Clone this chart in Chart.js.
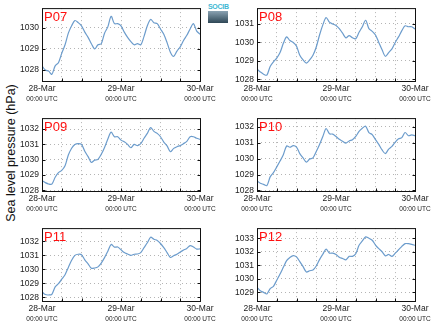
<!DOCTYPE html>
<html><head><meta charset="utf-8">
<script src="https://cdn.jsdelivr.net/npm/chart.js@4.4.1/dist/chart.umd.min.js"></script>
<style>
html,body{margin:0;padding:0;background:#fff;width:434px;height:327px;overflow:hidden;position:relative;font-family:"Liberation Sans",Arial,sans-serif}
.pane{position:absolute}
#ytitle{position:absolute;left:11px;top:153px;font-size:12.5px;color:#111;white-space:nowrap;transform:translate(-50%,-50%) rotate(-90deg)}
#logo{position:absolute;left:208px;top:3px;width:20px}
#logo .lt{font-size:7px;line-height:7px;color:#3fb8d4;font-weight:bold;letter-spacing:-0.3px;text-align:center}
#logo .lb{margin-top:1px;height:12px;background:linear-gradient(#8aa2b2,#2e4756);position:relative}
</style></head><body>
<div id="ytitle">Sea level pressure (hPa)</div>
<div id="logo"><div class="lt">SOCIB</div><div class="lb"></div></div>
<script>
// ---- data ----
const hours = [0,1,2,3,4,5,6,7,8,9,10,11,12,13,14,15,16,17,18,19,20,21,22,23,24,25,26,27,28,29,30,31,32,33,34,35,36,37,38,39,40,41,42,43,44,45,46,47,48];
const dayLabels = ['28-Mar','29-Mar','30-Mar'];
const timeLabel = '00:00 UTC';
const panelNames = ['P07','P08','P09','P10','P11','P12'];

const p07 = [1028.2,1028.0,1027.95,1027.8,1028.2,1028.35,1028.8,1029.2,1029.75,1030.1,1030.35,1030.25,1030.1,1029.8,1029.55,1029.25,1029.0,1029.2,1029.25,1029.75,1030.05,1030.55,1030.2,1030.2,1030.1,1029.8,1029.55,1029.35,1029.2,1029.25,1029.2,1029.6,1030.1,1030.4,1030.25,1030.2,1029.95,1029.7,1029.3,1028.85,1028.65,1028.9,1029.1,1029.4,1029.65,1029.95,1030.2,1029.85,1029.7];
const p08 = [1028.55,1028.4,1028.28,1028.23,1028.7,1028.95,1029.15,1029.45,1029.95,1030.3,1030.1,1030.0,1029.8,1029.3,1029.05,1028.88,1029.05,1029.3,1029.75,1030.4,1030.95,1031.35,1031.1,1031.0,1030.92,1030.75,1030.5,1030.25,1030.37,1030.25,1030.2,1030.55,1030.85,1031.2,1030.75,1030.6,1030.4,1030.0,1029.6,1029.25,1029.45,1029.65,1030.0,1030.3,1030.64,1030.9,1030.85,1030.85,1030.73];
const p09 = [1028.63,1028.5,1028.41,1028.4,1028.85,1029.15,1029.3,1029.6,1030.3,1030.75,1031.0,1031.05,1031.0,1030.55,1030.2,1029.82,1029.97,1030.02,1030.35,1030.8,1031.35,1031.8,1031.5,1031.5,1031.28,1031.17,1031.0,1030.78,1031.0,1030.92,1031.05,1031.4,1031.72,1032.1,1031.85,1031.72,1031.5,1031.15,1030.9,1030.52,1030.74,1030.85,1030.92,1031.05,1031.2,1031.5,1031.5,1031.4,1031.33];
const p10 = [1028.6,1028.45,1028.38,1028.3,1028.85,1029.12,1029.48,1029.85,1030.25,1030.8,1030.72,1030.82,1030.73,1030.32,1030.05,1029.78,1029.98,1030.05,1030.45,1030.9,1031.4,1031.9,1031.57,1031.55,1031.4,1031.22,1031.1,1030.98,1031.12,1031.2,1031.4,1031.72,1031.92,1032.05,1031.65,1031.52,1031.2,1030.9,1030.55,1030.32,1030.6,1030.78,1031.05,1031.25,1031.33,1031.65,1031.45,1031.5,1031.45];
const p11 = [1028.4,1028.2,1028.17,1028.22,1028.75,1028.98,1029.3,1029.62,1030.14,1030.65,1031.0,1031.08,1031.05,1030.68,1030.4,1030.08,1030.1,1030.18,1030.45,1030.84,1031.3,1031.78,1031.59,1031.6,1031.4,1031.2,1031.1,1031.0,1031.08,1031.1,1031.2,1031.55,1031.9,1032.3,1032.15,1032.07,1031.85,1031.55,1031.2,1030.85,1030.98,1031.08,1031.25,1031.38,1031.5,1031.7,1031.6,1031.45,1031.47];
const p12 = [1029.37,1029.12,1029.0,1028.88,1029.28,1029.45,1029.9,1030.35,1030.85,1031.35,1031.58,1031.72,1031.62,1031.27,1030.9,1030.5,1030.6,1030.65,1030.95,1031.42,1031.82,1032.2,1031.9,1031.9,1031.8,1031.6,1031.5,1031.4,1031.66,1031.66,1031.85,1032.48,1032.8,1033.1,1033.0,1032.85,1032.5,1032.23,1032.0,1031.7,1031.8,1031.66,1031.9,1032.15,1032.4,1032.6,1032.6,1032.55,1032.48];
const seriesList = [p07,p08,p09,p10,p11,p12];
const yMin = [1027.48,1027.91,1027.95,1027.96,1027.74,1028.36];
const yMax = [1030.94,1031.86,1032.72,1032.56,1032.95,1033.75];
const yTicks = [
  [1028,1029,1030],
  [1028,1029,1030,1031],
  [1028,1029,1030,1031,1032],
  [1028,1029,1030,1031,1032],
  [1028,1029,1030,1031,1032],
  [1029,1030,1031,1032,1033]
];

// ---- layout ----
const colLeft = [42,257];
const rowTop = [8,118,228];
const PW = 158, PH = 73;
const padL = 42, padR = 40, padT = 8;
const CW = padL + PW + padR, CH = 110;
const FONT = '"Liberation Sans", Arial, sans-serif';

const framePlugin = {
  id:'frame',
  afterDraw(chart, args, opts){
    const {ctx, chartArea:a} = chart;
    const xs = chart.scales.x, ys = chart.scales.y;
    ctx.save();
    ctx.strokeStyle = '#111'; ctx.lineWidth = 1;
    ctx.strokeRect(a.left+0.5, a.top+0.5, a.right-a.left, a.bottom-a.top);
    ctx.beginPath();
    xs.ticks.forEach(t=>{
      const px = Math.round(xs.getPixelForValue(t.value))+0.5;
      ctx.moveTo(px, a.bottom+0.5); ctx.lineTo(px, a.bottom-2.5);
    });
    ys.ticks.forEach(t=>{
      const py = Math.round(ys.getPixelForValue(t.value))+0.5;
      ctx.moveTo(a.left+0.5, py); ctx.lineTo(a.left+3.5, py);
      ctx.moveTo(a.right+0.5, py); ctx.lineTo(a.right-2.5, py);
    });
    ctx.stroke();
    ctx.fillStyle = '#ff1010';
    ctx.font = '13px ' + FONT;
    ctx.textBaseline = 'alphabetic';
    ctx.textAlign = 'left';
    ctx.fillText(opts.name, a.left+2, a.top+13);
    ctx.restore();
  }
};

seriesList.forEach((series, i) => {
  const col = i % 2, row = Math.floor(i/2);
  const wrap = document.createElement('div');
  wrap.className = 'pane';
  wrap.style.left = (colLeft[col]-padL)+'px';
  wrap.style.top = (rowTop[row]-padT)+'px';
  wrap.style.width = CW+'px'; wrap.style.height = CH+'px';
  const cv = document.createElement('canvas');
  cv.width = CW; cv.height = CH;
  cv.style.width = CW+'px'; cv.style.height = CH+'px';
  wrap.appendChild(cv);
  document.body.appendChild(wrap);
  new Chart(cv, {
    type:'line',
    data:{labels:hours, datasets:[{data:series, borderColor:'rgb(108,156,204)', borderWidth:1.2, pointRadius:0, tension:0.3, fill:false}]},
    options:{
      responsive:false, animation:false, devicePixelRatio:1,
      layout:{padding:{left:0,right:padR,top:padT,bottom:0}},
      plugins:{legend:{display:false}, tooltip:{enabled:false}, frame:{name:panelNames[i]}},
      scales:{
        x:{type:'linear', position:'bottom', min:0, max:48,
           ticks:{stepSize:6, autoSkip:false, maxRotation:0, padding:3, color:'#222', font:{family:FONT,size:8.5},
                  callback:(v)=> (v%24===0 ? dayLabels[v/24] : '')},
           grid:{color:'#b4b4b4', lineWidth:1, drawTicks:false},
           border:{display:false, dash:[1,3]},
           afterFit:(s)=>{s.height=13;}},
        x2:{type:'linear', position:'bottom', min:0, max:48,
           ticks:{stepSize:24, autoSkip:false, maxRotation:0, padding:1, color:'#222', font:{family:FONT,size:6.5},
                  callback:()=>timeLabel},
           grid:{display:false, drawTicks:false},
           border:{display:false},
           afterFit:(s)=>{s.height=CH-padT-PH-13;}},
        y:{min:yMin[i], max:yMax[i],
           afterBuildTicks:(s)=>{s.ticks = yTicks[i].map(v=>({value:v}));},
           ticks:{autoSkip:false, padding:3, color:'#222', font:{family:FONT,size:8.5},
                  callback:(v)=>String(v)},
           grid:{color:'#b4b4b4', lineWidth:1, drawTicks:false},
           border:{display:false, dash:[1,3]},
           afterFit:(s)=>{s.width=padL;}}
      }
    },
    plugins:[framePlugin]
  });
});
</script>
</body></html>
